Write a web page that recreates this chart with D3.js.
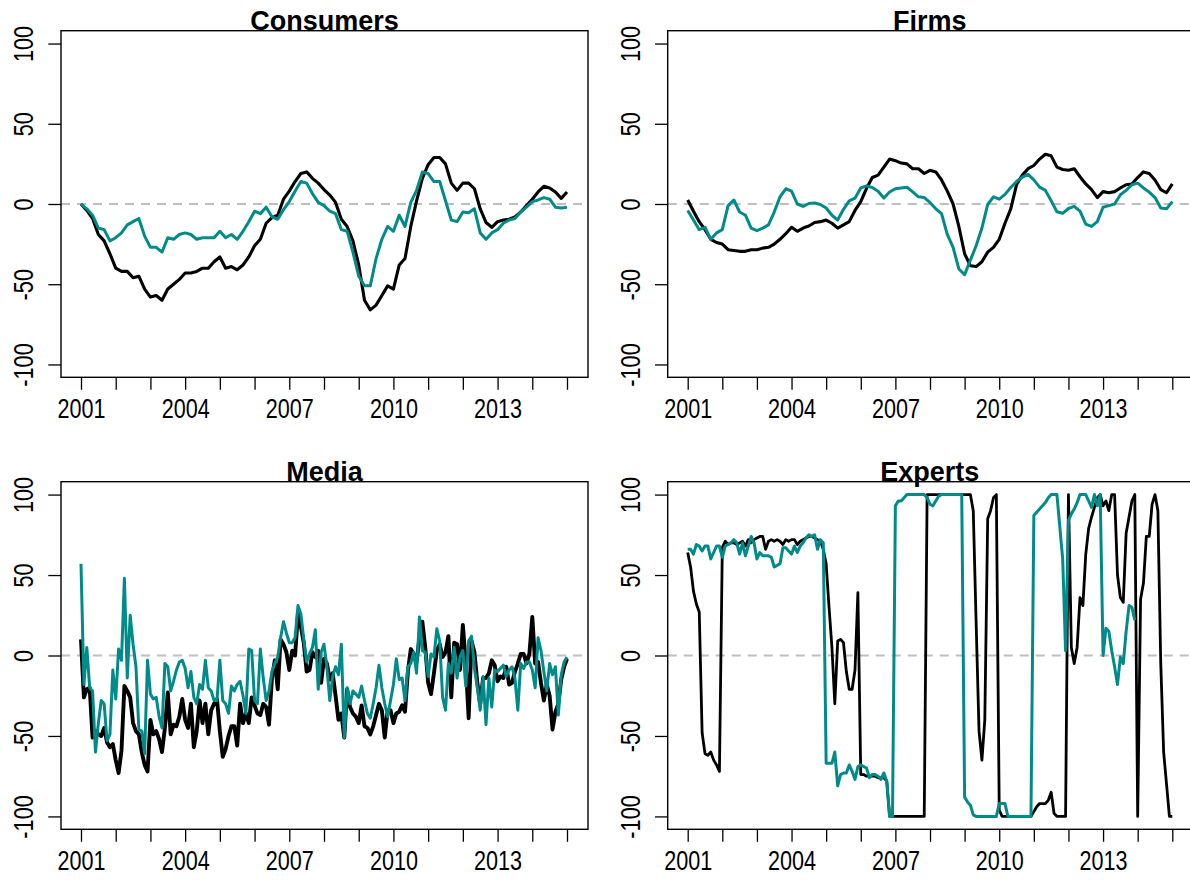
<!DOCTYPE html>
<html>
<head>
<meta charset="utf-8">
<script src="https://cdn.jsdelivr.net/npm/d3@7"></script>
<style>
  body { margin: 0; background: #fff; }
  svg { display: block; }
  text { font-family: "Liberation Sans", Arial, sans-serif; }
</style>
</head>
<body>
<svg id="chart" width="1190" height="884"></svg>
<script>
// ---- data ----
const panelTitles = ["Consumers", "Firms", "Media", "Experts"];
const yearTicks = [2001, 2002, 2003, 2004, 2005, 2006, 2007, 2008, 2009, 2010, 2011, 2012, 2013, 2014, 2015];
const labelYears = [2001, 2004, 2007, 2010, 2013];
const valueTicks = [-100, -50, 0, 50, 100];
const startYear = 2001;

// bimonthly, Jan 2001 .. Jan 2015
const consumersBlack = [0, -4, -9, -19, -23, -31, -40, -42, -42, -46, -45, -53, -58, -57, -60, -53, -50, -47, -43, -43,
  -42, -40, -40, -36, -33, -40, -39, -41, -38, -33, -26, -22, -12, -8.5, -7, 3, 8, 14, 19, 20,
  16, 13, 9, 5.6, 1, -9.5, -14, -23, -38, -60, -66, -63, -57, -51, -53, -38, -34, -14, 2, 16,
  24.5, 29, 29, 25, 13, 8.5, 13, 13, 9.5, -3, -11.5, -14.5, -11, -10, -9.5, -8, -5, -1, 3, 7.5,
  11, 10, 7.5, 3.5, 7.5];
const consumersTeal = [0, -3, -7, -15, -16, -23, -21, -18, -13, -11, -9, -20, -27, -27, -30, -21, -22, -19, -18, -19,
  -22, -21, -21, -21, -17, -21, -19, -22, -17, -11, -4.5, -6, -2, -8, -9.5, -3.5, 1.5, 8, 14, 13,
  6.5, 1, -1, -4.5, -6, -16, -17, -30, -45, -51, -51, -34, -22, -14, -17, -7, -14, 1, 8.5, 20,
  19, 14, 14, 2, -10, -11, -5, -5.5, -3, -18, -22, -18, -16, -12, -10, -9, -5, -2, 1.5, 2.5,
  4, 3, -2, -2.5, -2];
const firmsBlack = [2.5, -4.5, -11, -16, -22, -24, -25, -28.5, -29, -29.5, -29.5, -28.5, -28.5, -27.5, -27, -25, -22, -18.5, -14.5, -17,
  -15, -13.7, -11.5, -11, -10, -12, -15, -13, -11, -4, 1.5, 9.8, 16.5, 18, 23, 28, 27, 25.5, 25, 22,
  22, 19, 21, 20, 15, 8, 0, -14, -31, -38.5, -39, -36, -30, -27, -22, -12, -3, 12, 18, 22,
  24, 28, 31, 30, 23, 21.5, 21, 22, 17, 12.5, 9, 4, 7.7, 7, 7.7, 10, 12, 12.5, 16.5, 20,
  19, 15, 9, 7, 12.5];
const firmsTeal = [-4, -10, -16, -14.5, -22, -18, -16, -1, 2.5, -5, -7, -15, -16.6, -15, -13, -5, 4.5, 9.5, 8, 0,
  -1.5, 0.3, 0.7, -0.3, -2.5, -7, -10, -3.3, 2, 3.6, 10, 11.3, 10.3, 8, 3.7, 7.5, 9.5, 10, 10.5, 7.5,
  4.5, 4, 1, -3, -6, -19, -27, -40.5, -44, -35, -26, -15, -0.3, 4.5, 3, 6, 10.3, 14, 16.7, 18.5,
  15, 10.5, 8.5, 2, -4.8, -5.8, -2.8, -1.5, -4.5, -12.5, -14, -11, -2, -1, 0, 5.8, 8.5, 12, 13, 10,
  7.4, 4, -2.5, -3, 1.5];

// monthly, Jan 2001 .. Jan 2015
const mediaBlack = [10, -26, -21, -20, -51, -47, -49, -50, -45, -54, -57, -55, -65, -73, -59, -19, -22, -26, -42, -47,
  -49, -60, -68, -72, -40, -49, -47, -52, -60, -45, -23, -49, -43, -44, -38, -27, -40, -45, -30, -57,
  -47, -28, -42, -30, -49, -34, -30, -27, -47, -63, -58, -50, -44, -44, -56, -30, -42, -36, -42, -26,
  -31, -36, -37, -30, -32, -43, -14, -3, -21, 10, 7, 2, -9, 3, 0, 26, 18, 8, -10, -9,
  2, -1, 3, -17, -2, -5, -15, -11, -25, -40, -36, -51, -21, -32, -36, -38, -42, -31, -44, -45,
  -49, -44, -37, -30, -34, -51, -34, -34, -42, -36, -35, -31, -35, -10, 4, 1, -4, 11, 21, 5,
  -17, -24, -11, 3, 7, -1, 2, 12, -26, 8, 7, -9, 19, -5, -39, 9, 2, -17, -30, -14,
  -14, -11, -3, -6, -16, -13, -14, -7, -18, -17, -10, -5, 1, 1, -5, 1, 24, -5, -4, -17,
  -28, -18, -25, -46, -35, -30, -15, -7, -2];
const mediaTeal = [57, -18, 5, -20, -22, -60, -42, -28, -30, -53, -49, -9, -27, 4, -3, 48, -14, 25, 7, -7,
  -46, -47, -61, -3, -24, -27, -26, -38, -45, -5, -7, -22, -16, -9, -4, -3, -8, -20, -10, -26,
  -30, -18, -21, -3, -20, -22, -28, -28, -3, -28, -30, -36, -19, -22, -18, -16, -25, -36, 4, 3,
  -28, -30, 4, -14, -28, -22, -10, -5, -1, 11, 21, 14, 8, 8, 11, 31, 26, 10, -4, 1,
  5, 16, -21, 2, 7, -7, -28, -13, -7, -12, 7, -51, -20, -30, -22, -24, -26, -19, -28, -36,
  -39, -30, -20, -6, -20, -30, -38, -28, -18, -2, -15, -14, -28, -7, -5, 2, -11, 24, 3, 2,
  -13, 1, -1, 16.6, 9, -26, -34, -5, -11, 5, -14, -1, 3, -19, 9, 12, -8, -20, -34, -13,
  -43, -14, -32, -9, -10, -8, -6, -13, -9, -7, -14, -34, -5, -8, -4, -4, -9, -20, 11, 3,
  -10, -22, -5, -12, -7, -37, -12, -4, -1];
const expertsBlack = [64, 55, 40, 32, 27, -48, -61, -62, -60, -65, -68, -72, 67, 71, 69, 70, 70, 69, 70, 71,
  68, 72, 70, 72, 73, 74, 74, 66, 71, 72, 71, 72, 71, 69, 72, 71, 72, 72, 69, 71,
  72, 73, 74, 74, 73, 72, 71, 66, 57, 30, 5, -30, 9, 10, 8, -10, -21, -21, -9, 39,
  -74, -74, -75, -75, -75, -75, -76, -76, -76, -78, -100, -100, -100, -100, -100, -100, -100, -100, -100, -100,
  -100, -100, -100, 100, 100, 100, 100, 100, 100, 100, 100, 100, 100, 100, 100, 100, 100, 100, 100, 90,
  20, -47, -65, -40, 85, 90, 98, 100, -96, -100, -100, -100, -100, -100, -100, -100, -100, -100, -100, -100,
  -97, -94, -92, -92, -92, -90, -85, -98, -100, -100, -100, -100, 100, 5, -5, 5, 36, 31, 63, 79,
  86, 92, 98, 100, 93, 96, 90, 100, 100, 50, 36, 33, 76, 86, 96, 100, -100, 35, 45, 74,
  74, 94, 100, 90, -5, -60, -80, -100, -100];
const expertsTeal = [66, 66, 63, 69, 68, 65, 68, 68, 60, 64, 68, 68, 61, 68, 69, 70, 72, 70, 63, 70,
  62, 68, 74, 70, 60, 64, 62, 62, 62, 61, 55, 56, 57, 67, 67, 65, 63, 68, 64, 68,
  70, 73, 75, 74, 75, 66, 72, 70, -67, -67, -67, -60, -81, -74, -73, -73, -68, -72, -77, -69,
  -68, -69, -70, -76, -74, -74, -75, -77, -73, -78, -100, -100, 93, 96, 96, 98, 100, 100, 100, 100,
  100, 100, 100, 98, 94, 93, 96, 99, 100, 100, 100, 100, 100, 100, 100, 100, -88, -91, -93, -99,
  -100, -100, -100, -100, -100, -100, -100, -100, -92, -92, -92, -100, -100, -100, -100, -100, -100, -100, -100, -100,
  87, 89, 91, 93, 95, 98, 100, 100, 100, 80, 60, 3, 84, 88, 91, 95, 100, 100, 100, 96,
  92, 100, 93, 100, 0, 17, 15, 3, -7, -18, -1, -5, 15, 31, 30, 22, null, null, null, null,
  null, null, null, null, null, null, null, null, null];

// ---- layout ----
const cols = [
  {left: 61, right: 588, x0: 81, x1: 567},
  {left: 667.7, right: 1192, x0: 687.7, x1: 1172.3}
];
const rows = [
  {top: 30.7, bottom: 377.3},
  {top: 481.7, bottom: 829.3}
];
const teal = "#008b8b";

const panels = [
  {title: panelTitles[0], black: consumersBlack, teal: consumersTeal, step: 1 / 6, col: 0, row: 0, bw: 3.1},
  {title: panelTitles[1], black: firmsBlack, teal: firmsTeal, step: 1 / 6, col: 1, row: 0, bw: 3.1},
  {title: panelTitles[2], black: mediaBlack, teal: mediaTeal, step: 1 / 12, col: 0, row: 1, bw: 3.9},
  {title: panelTitles[3], black: expertsBlack, teal: expertsTeal, step: 1 / 12, col: 1, row: 1, bw: 2.8}
];

// label width: narrow digits, R-style hyphen minus
function labelLength(s) {
  let n = 0;
  for (const ch of s) n += (ch === "-") ? 7.5 : 12;
  return n;
}

const svg = d3.select("#chart");

panels.forEach((p, idx) => {
  const c = cols[p.col], r = rows[p.row];
  const x = d3.scaleLinear().domain([2001, 2015]).range([c.x0, c.x1]);
  const y = d3.scaleLinear().domain([-108, 108]).range([r.bottom, r.top]);
  const g = svg.append("g");

  const clipId = "clip" + idx;
  g.append("clipPath").attr("id", clipId).append("rect")
    .attr("x", c.left).attr("y", r.top)
    .attr("width", c.right - c.left).attr("height", r.bottom - r.top);

  // zero reference line
  g.append("line")
    .attr("x1", c.left).attr("x2", c.right)
    .attr("y1", y(0)).attr("y2", y(0))
    .attr("stroke", "#bebebe").attr("stroke-width", 1.8)
    .attr("stroke-dasharray", "9,7");

  const line = d3.line()
    .defined(d => d.v !== null)
    .x(d => x(d.t))
    .y(d => y(d.v));
  const toPoints = arr => arr.map((v, i) => ({t: startYear + i * p.step, v: v}));

  const lines = g.append("g").attr("clip-path", "url(#" + clipId + ")");
  lines.append("path")
    .attr("d", line(toPoints(p.black)))
    .attr("fill", "none").attr("stroke", "#000")
    .attr("stroke-width", p.bw).attr("stroke-linejoin", "round");
  lines.append("path")
    .attr("d", line(toPoints(p.teal)))
    .attr("fill", "none").attr("stroke", teal)
    .attr("stroke-width", 3).attr("stroke-linejoin", "round");

  // box
  g.append("rect")
    .attr("x", c.left).attr("y", r.top)
    .attr("width", c.right - c.left).attr("height", r.bottom - r.top)
    .attr("fill", "none").attr("stroke", "#000").attr("stroke-width", 1.4);

  // x axis
  const xAxis = d3.axisBottom(x)
    .tickValues(yearTicks)
    .tickSize(12.5)
    .tickFormat(d => labelYears.includes(d) ? String(d) : "");
  const gx = g.append("g")
    .attr("transform", "translate(0," + r.bottom + ")")
    .call(xAxis);
  gx.select(".domain").remove();
  gx.selectAll(".tick line").attr("stroke", "#000").attr("stroke-width", 1.3);
  gx.selectAll(".tick text")
    .attr("y", 41).attr("dy", 0)
    .attr("font-size", 28).attr("fill", "#000")
    .attr("font-family", "'Liberation Sans', Arial, sans-serif")
    .each(function (d) {
      const s = d3.select(this).text();
      if (s) d3.select(this).attr("textLength", labelLength(s)).attr("lengthAdjust", "spacingAndGlyphs");
    });

  // y axis
  const yAxis = d3.axisLeft(y)
    .tickValues(valueTicks)
    .tickSize(12.7)
    .tickFormat(d => String(d));
  const gy = g.append("g")
    .attr("transform", "translate(" + c.left + ",0)")
    .call(yAxis);
  gy.select(".domain").remove();
  gy.selectAll(".tick line").attr("stroke", "#000").attr("stroke-width", 1.3);
  gy.selectAll(".tick text")
    .attr("x", 0).attr("y", 0).attr("dy", 0)
    .attr("transform", "translate(-28,0) rotate(-90)")
    .attr("text-anchor", "middle")
    .attr("font-size", 28).attr("fill", "#000")
    .attr("font-family", "'Liberation Sans', Arial, sans-serif")
    .each(function () {
      const s = d3.select(this).text();
      d3.select(this).attr("textLength", labelLength(s)).attr("lengthAdjust", "spacingAndGlyphs");
    });

  // title
  g.append("text")
    .attr("x", (c.left + c.right) / 2)
    .attr("y", r.top - 0.7)
    .attr("text-anchor", "middle")
    .attr("font-size", 27).attr("font-weight", "bold")
    .text(p.title);
});
</script>
</body>
</html>
